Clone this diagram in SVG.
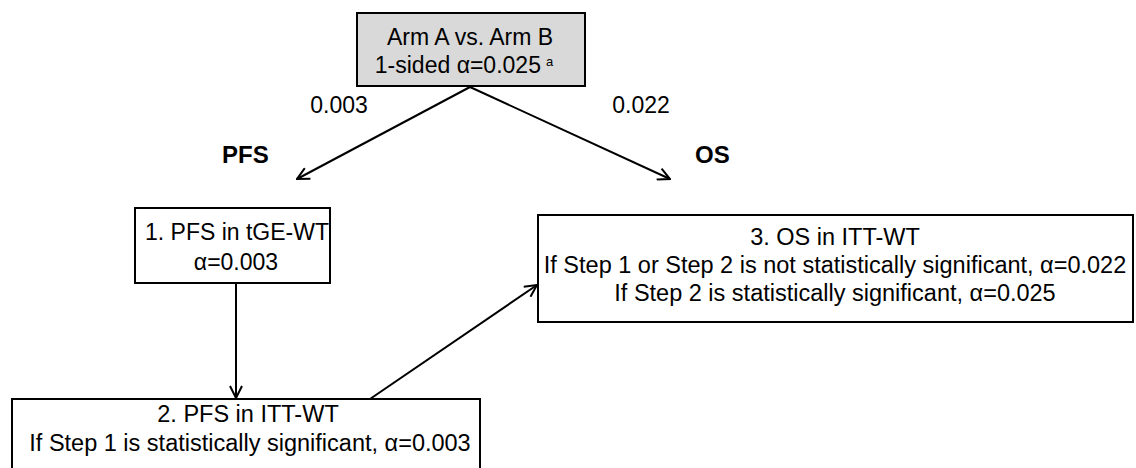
<svg xmlns="http://www.w3.org/2000/svg" width="1136" height="468" viewBox="0 0 1136 468">
<style>
.box{fill:#fff;stroke:#000;stroke-width:2}
.gray{fill:#d9d9d9}
.t{font-family:"Liberation Sans",Arial,sans-serif;font-size:23px;fill:#000;text-anchor:middle}
.s{font-size:23.5px}
.b{font-weight:bold;text-anchor:start;font-size:24px}
.c{fill:none;stroke:#000;stroke-width:2}
</style>
<defs>
<marker id="ah" viewBox="0 0 14 14" refX="13" refY="7" markerWidth="14" markerHeight="14" markerUnits="userSpaceOnUse" orient="auto">
<polyline points="1,1 13,7 1,13" fill="none" stroke="#000" stroke-width="2"/>
</marker>
</defs>
<rect width="1136" height="468" fill="#fff"/>
<g id="connectors">
<line class="c" x1="470" y1="87" x2="297" y2="179" marker-end="url(#ah)"/>
<line class="c" x1="470" y1="87" x2="670" y2="179" marker-end="url(#ah)"/>
<line class="c" x1="236" y1="283" x2="236" y2="398" marker-end="url(#ah)"/>
<line class="c" x1="370" y1="399" x2="537" y2="285" marker-end="url(#ah)"/>
<text class="t" x="339" y="113">0.003</text>
<text class="t" x="641" y="113">0.022</text>
<text class="t b" x="222" y="163">PFS</text>
<text class="t b" x="695" y="163">OS</text>
</g>
<g id="top">
<rect class="box gray" x="357" y="13" width="228" height="73"/>
<text class="t" x="470" y="45">Arm A vs. Arm B</text>
<text class="t" x="464" y="73">1-sided α=0.025<tspan font-size="13" dx="5" dy="-7">a</tspan></text>
</g>
<g id="step1">
<rect class="box" x="135" y="208" width="195" height="75"/>
<text class="t" x="237" y="240">1. PFS in tGE-WT</text>
<text class="t" x="236" y="270">α=0.003</text>
</g>
<g id="step3">
<rect class="box" x="538" y="215" width="595" height="107"/>
<text class="t s" x="835" y="245">3. OS in ITT-WT</text>
<text class="t s" x="835" y="273">If Step 1 or Step 2 is not statistically significant, α=0.022</text>
<text class="t s" x="835" y="301">If Step 2 is statistically significant, α=0.025</text>
</g>
<g id="step2">
<rect class="box" x="12" y="399" width="468" height="80"/>
<text class="t s" x="248" y="422">2. PFS in ITT-WT</text>
<text class="t s" x="250" y="451">If Step 1 is statistically significant, α=0.003</text>
</g>
</svg>
